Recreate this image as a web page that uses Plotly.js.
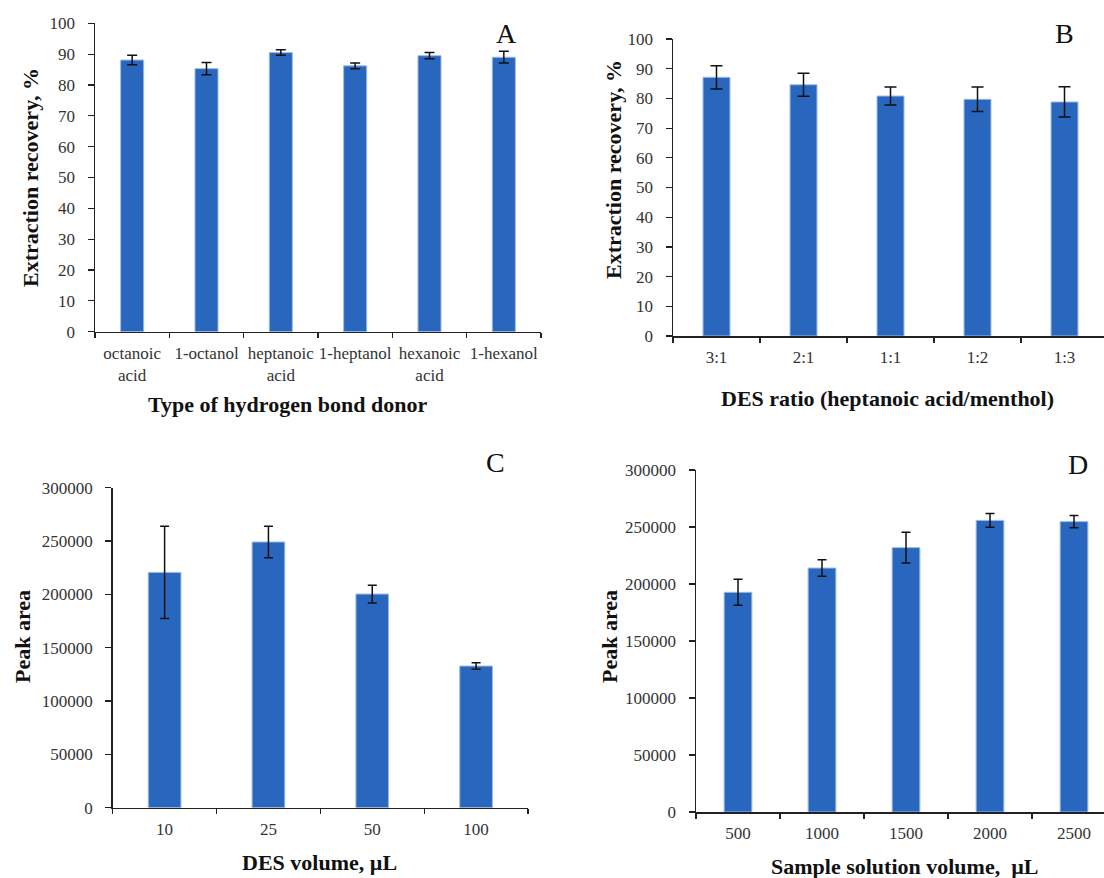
<!DOCTYPE html>
<html>
<head>
<meta charset="utf-8">
<script src="https://cdn.plot.ly/plotly-3.0.1.min.js"></script>
<style>html,body{margin:0;padding:0;background:#fff;}#chart{width:1104px;height:878px;}</style>
</head>
<body>
<div id="chart"></div>
<script>
// ---- Data ----
const catsA = ['octanoic<br>acid', '1-octanol', 'heptanoic<br>acid', '1-heptanol', 'hexanoic<br>acid', '1-hexanol'];
const valsA = [88.1, 85.3, 90.5, 86.2, 89.5, 89.0];
const errA  = [1.5, 2.0, 0.9, 0.9, 1.0, 1.9];

const catsB = ['3:1', '2:1', '1:1', '1:2', '1:3'];
const valsB = [87.1, 84.6, 80.8, 79.7, 78.8];
const errB  = [3.9, 3.9, 3.0, 4.1, 5.1];

const catsC = ['10', '25', '50', '100'];
const valsC = [220600, 249100, 200300, 132800];
const errC  = [43300, 14800, 8300, 3000];

const catsD = ['500', '1000', '1500', '2000', '2500'];
const valsD = [192700, 214000, 231900, 255800, 254700];
const errD  = [11400, 7200, 13500, 6100, 5400];

const titles = {
  ax: 'Type of hydrogen bond donor',
  ay: 'Extraction recovery, %',
  bx: 'DES ratio (heptanoic acid/menthol)',
  by: 'Extraction recovery, %',
  cx: 'DES volume, \u00b5L',
  cy: 'Peak area',
  dx: 'Sample solution volume,  \u00b5L',
  dy: 'Peak area'
};
const panelLetters = ['A', 'B', 'C', 'D'];

// ---- Styling ----
const W = 1104, H = 878;
const barColor = '#2966BE';
const barEdge = '#9DBBE6';
const serif = 'Liberation Serif, Times New Roman, serif';
const tickFont = {family: serif, size: 17, color: '#333'};
const titleFont = {family: serif, size: 22, color: '#111', weight: 'bold'};
const letterFont = {family: serif, size: 28, color: '#111'};

function px(x) { return x / W; }
function py(y) { return 1 - y / H; }

function barTrace(cats, vals, errs, xa, ya, w, cap) {
  return {
    type: 'bar', x: cats, y: vals, xaxis: xa, yaxis: ya, width: w,
    marker: {color: barColor, line: {color: barEdge, width: 1}},
    error_y: {type: 'data', array: errs, visible: true, color: '#111', thickness: 1.5, width: cap},
    hoverinfo: 'x+y', showlegend: false
  };
}

const data = [
  barTrace(catsA, valsA, errA, 'x', 'y', 0.31, 5),
  barTrace(catsB, valsB, errB, 'x2', 'y2', 0.31, 6),
  barTrace(catsC, valsC, errC, 'x3', 'y3', 0.315, 4.5),
  barTrace(catsD, valsD, errD, 'x4', 'y4', 0.33, 4.5)
];

function xAxis(domain, range, anchor) {
  return {
    domain: domain, range: range, anchor: anchor, type: 'category',
    showline: true, linecolor: '#222', linewidth: 1.5,
    ticks: 'outside', tickson: 'boundaries', ticklen: 5, tickcolor: '#222', tickwidth: 1.2,
    tickfont: tickFont, tickangle: 0, ticklabelstandoff: 5, showgrid: false, zeroline: false, fixedrange: true
  };
}
function yAxis(domain, range, dtick, anchor) {
  return {
    domain: domain, range: range, anchor: anchor, dtick: dtick, tick0: 0, tickformat: 'd',
    showline: true, linecolor: '#222', linewidth: 1.5,
    ticks: 'outside', ticklen: 6, tickcolor: '#222', tickwidth: 1.2,
    tickfont: tickFont, ticklabelstandoff: 9, showgrid: false, zeroline: false, fixedrange: true
  };
}

const layout = {
  width: W, height: H,
  margin: {l: 0, r: 0, t: 0, b: 0},
  paper_bgcolor: '#fff', plot_bgcolor: '#fff',
  showlegend: false,
  xaxis:  xAxis([px(95), px(541)], [-0.5, 5.5], 'y'),
  yaxis:  yAxis([py(331.7), py(23.3)], [0, 100], 10, 'x'),
  xaxis2: xAxis([px(673), 1], [-0.5, 4.454], 'y2'),
  yaxis2: yAxis([py(336), py(39)], [0, 100], 10, 'x2'),
  xaxis3: xAxis([px(112.7), px(528)], [-0.5, 3.5], 'y3'),
  yaxis3: yAxis([py(807.7), py(487.7)], [0, 300000], 50000, 'x3'),
  xaxis4: xAxis([px(696), 1], [-0.5, 4.357], 'y4'),
  yaxis4: yAxis([py(812), py(470)], [0, 300000], 50000, 'x4'),
  annotations: []
};

function ann(text, x, y, font, angle) {
  return {text: text, x: px(x), y: py(y), xref: 'paper', yref: 'paper',
          xanchor: 'center', yanchor: 'middle', showarrow: false, font: font, textangle: angle || 0};
}
layout.annotations.push(
  ann(titles.ax, 287, 405, titleFont),
  ann(titles.ay, 30, 178, titleFont, -90),
  ann(titles.bx, 887, 398, titleFont),
  ann(titles.by, 613, 170, titleFont, -90),
  ann(titles.cx, 319, 862, titleFont),
  ann(titles.cy, 22, 636, titleFont, -90),
  ann(titles.dx, 905, 866, titleFont),
  ann(titles.dy, 609, 637, titleFont, -90),
  ann(panelLetters[0], 506, 33, letterFont),
  ann(panelLetters[1], 1064, 34, letterFont),
  ann(panelLetters[2], 495, 462, letterFont),
  ann(panelLetters[3], 1078, 464, letterFont)
);

Plotly.newPlot('chart', data, layout, {staticPlot: true, displayModeBar: false});
</script>
</body>
</html>
